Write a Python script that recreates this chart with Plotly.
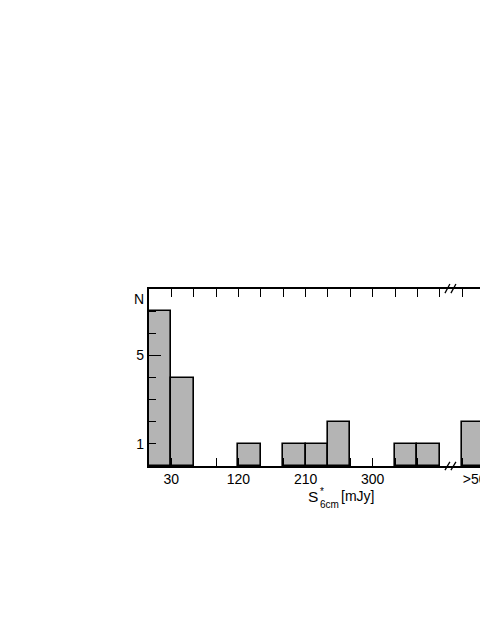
import plotly.graph_objects as go

# ---- data ----
bin_left_mjy = [0, 30, 60, 90, 120, 150, 180, 210, 240, 270, 300, 330, 360]
counts = [7, 4, 0, 0, 1, 0, 1, 1, 2, 0, 0, 1, 1]
bin_width = 30
overflow_label = ">500"
overflow_count = 2
overflow_pos = 435          # position of the overflow bin after the axis break
overflow_label_pos = 442
tick_label_vals = [30, 120, 210, 300]
y_label_vals = [1, 5]

FONT = "Liberation Sans, Arial, Helvetica, sans-serif"
GREY = "#b4b4b4"

xs = [l + bin_width / 2 for l, c in zip(bin_left_mjy, counts) if c > 0]
ys = [c for c in counts if c > 0]
xs.append(overflow_pos)
ys.append(overflow_count)

fig = go.Figure()
fig.add_trace(go.Bar(
    x=xs, y=ys, width=bin_width,
    marker=dict(color=GREY, line=dict(color="black", width=1.6)),
    showlegend=False, hoverinfo="skip",
))
# invisible trace for the label axes
fig.add_trace(go.Scatter(x=[0], y=[0], xaxis="x2", yaxis="y2", mode="markers",
                         marker=dict(opacity=0), showlegend=False, hoverinfo="skip"))

xr = [0, 444]
yr = [0, 8]
tf = dict(size=14, family=FONT, color="black")

fig.update_layout(
    template="none",
    width=480, height=621,
    margin=dict(l=149, r=0, t=289, b=155),
    paper_bgcolor="white", plot_bgcolor="white",
    font=dict(family=FONT, size=13, color="black"),
    bargap=0,
    xaxis=dict(
        range=xr, tickmode="array", tickvals=list(range(30, 421, 30)),
        ticks="inside", ticklen=8, tickwidth=1.3, tickcolor="black",
        showticklabels=False, showline=True, linecolor="black", linewidth=1.6,
        mirror="allticks", showgrid=False, zeroline=False, layer="above traces",
    ),
    xaxis2=dict(
        range=xr, overlaying="x", anchor="y", side="bottom",
        tickmode="array",
        tickvals=tick_label_vals + [overflow_label_pos],
        ticktext=[str(v) for v in tick_label_vals] + [overflow_label],
        ticks="", showline=False, showgrid=False, zeroline=False,
        tickfont=tf, ticklabeloverflow="allow", ticklabelstandoff=3,
    ),
    yaxis=dict(
        range=yr, tickmode="array", tickvals=[1, 2, 3, 4, 5, 6, 7],
        ticks="inside", ticklen=7, tickwidth=1.3, tickcolor="black",
        minor=dict(tickmode="array", tickvals=[5], ticks="inside", ticklen=12,
                   tickwidth=1.3, tickcolor="black"),
        showticklabels=False, showline=True, linecolor="black", linewidth=1.6,
        showgrid=False, zeroline=False, layer="above traces",
    ),
    yaxis2=dict(
        range=yr, overlaying="y", anchor="x", side="left",
        tickmode="array", tickvals=y_label_vals + [7.55],
        ticktext=[str(v) for v in y_label_vals] + ["N"],
        ticks="", showline=False, showgrid=False, zeroline=False,
        tickfont=tf, ticklabelstandoff=4,
    ),
)

# axis title: S, star/subscript stack, unit
fig.add_annotation(text="S", xref="paper", yref="paper",
                   x=0.4758, y=-0.1751, xanchor="left", yanchor="middle",
                   showarrow=False, font=dict(size=15.5, family=FONT, color="black"))
fig.add_annotation(text="*<br>6cm", xref="paper", yref="paper",
                   x=0.510, y=-0.178, xanchor="left", yanchor="middle", align="left",
                   showarrow=False, font=dict(size=10, family=FONT, color="black"))
fig.add_annotation(text="[mJy]", xref="paper", yref="paper",
                   x=0.574, y=-0.1723, xanchor="left", yanchor="middle",
                   showarrow=False, font=dict(size=14, family=FONT, color="black"))

# axis-break marks
for (y0, y1) in [(0.977, 1.028), (-0.023, 0.023)]:
    for (xa, xb) in [(397, 403.6), (405, 411.7)]:
        fig.add_shape(type="line", xref="x", yref="paper",
                      x0=xa, x1=xb, y0=y0, y1=y1,
                      line=dict(color="black", width=1.3))

fig.write_html(
    "out.html",
    config={"displayModeBar": False},
    post_script="document.body.style.margin='0';document.body.style.overflow='hidden';",
)
